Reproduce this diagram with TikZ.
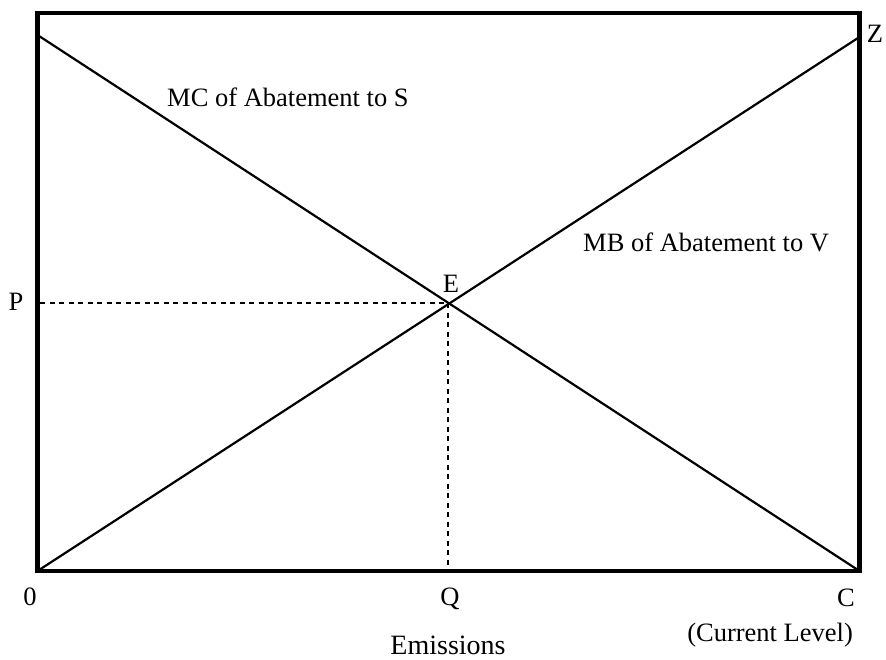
\documentclass[tikz,border=0pt]{standalone}
\usepackage{fontspec}
\setmainfont{Liberation Serif}
\begin{document}
\begin{tikzpicture}[x=1pt,y=-1pt,
  lbl/.style={inner sep=0pt,font=\fontsize{26.5}{30}\selectfont},
  biglbl/.style={inner sep=0pt,font=\fontsize{28}{32}\selectfont},
  frame/.style={line width=4.5pt},
  curve/.style={line width=2.2pt},
  guide/.style={line width=2.8pt,dash pattern=on 5pt off 4.5pt}]
\useasboundingbox (0,0) rectangle (886,659);
% frame
\draw[frame] (37.5,13) rectangle (859.5,571);
% curve endpoints
\coordinate (mcS) at (37.5,35);
\coordinate (mcE) at (859.5,571);
\coordinate (mbS) at (37.5,571);
\coordinate (mbE) at (859.5,37);
\draw[curve] (mcS) -- (mcE);
\draw[curve] (mbS) -- (mbE);
% equilibrium
\coordinate (Ept) at (448,303);
\coordinate (Pax) at (40,303);
\coordinate (Qax) at (448,569);
\draw[guide] (Pax) -- (Ept);
\draw[guide] (Ept) -- (Qax);
% labels
\node[lbl,anchor=base west] (mc) at (167,106) {MC of Abatement to S};
\node[lbl,anchor=base west] (mb) at (583,251) {MB of Abatement to V};
\node[lbl,anchor=base] (E) at (451,292) {E};
\node[lbl,anchor=base] (P) at (16,310) {P};
\node[lbl,anchor=base] (zero) at (30,605) {0};
\node[lbl,anchor=base] (Q) at (450,605) {Q};
\node[lbl,anchor=base] (C) at (846,606) {C};
\node[lbl,anchor=base east] (cur) at (853,641) {(Current Level)};
\node[biglbl,anchor=base] (em) at (448,654) {Emissions};
\node[lbl,anchor=base] (Z) at (875,42) {Z};
\end{tikzpicture}
\end{document}
